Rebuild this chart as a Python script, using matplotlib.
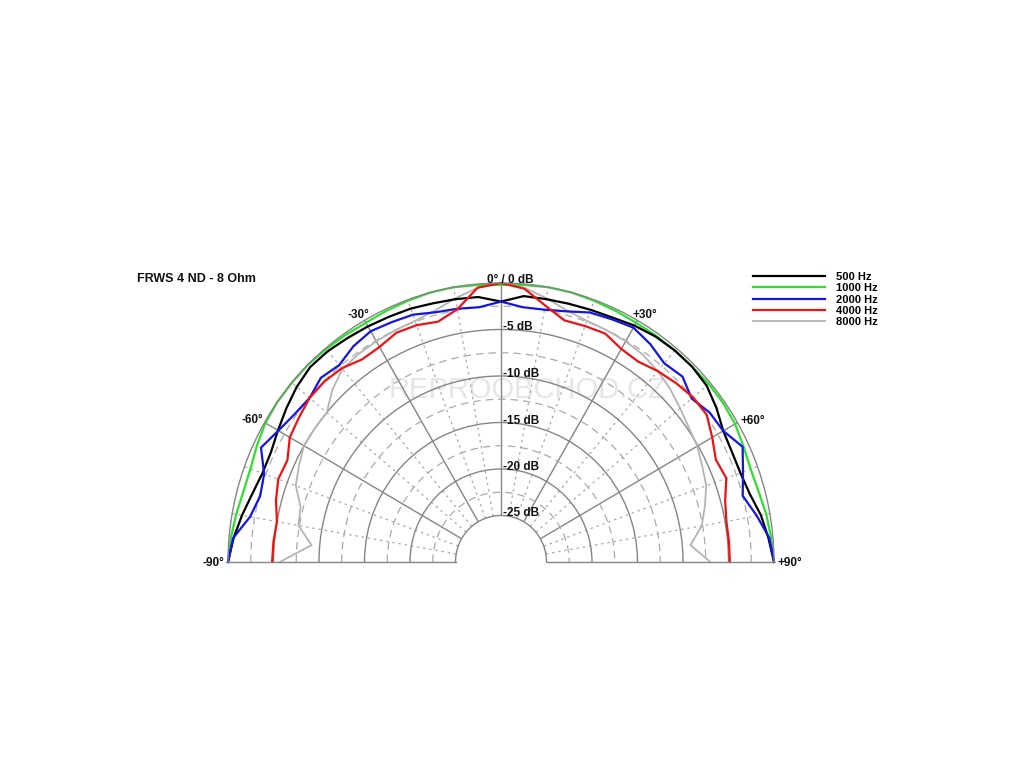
import numpy as np
import matplotlib
matplotlib.use("Agg")
import matplotlib.pyplot as plt
from matplotlib.transforms import offset_copy

plt.rcParams['font.family'] = ['Liberation Sans', 'DejaVu Sans']

# angles in degrees, levels in dB
angles = np.arange(-90, 91, 5)

db_500 = [0.0, -0.5, -1.1, -1.7, -2.1, -2.1, -1.7, -1.2, -0.7, -0.35, -0.4, -0.6, -0.75,
          -0.9, -1.0, -1.2, -1.3, -1.4, -2.0, -1.3, -1.3, -1.25, -1.15, -1.0, -0.65, -0.4,
          -0.3, -0.3, -0.5, -1.1, -1.8, -2.0, -2.0, -1.7, -1.0, -0.5, 0.0]
db_1000 = [0.0, -0.2, -0.45, -0.7, -0.7, -0.4, -0.1, 0.0, 0.0, 0.0, -0.1, -0.2, -0.3,
           -0.2, -0.1, 0.0, 0.0, -0.1, -0.2, -0.1, 0.0, 0.0, -0.1, -0.2, -0.3, -0.3,
           -0.3, -0.3, -0.2, -0.2, -0.3, -0.6, -0.8, -0.7, -0.4, -0.2, 0.0]
db_2000 = [0.0, -0.45, -2.0, -2.6, -2.3, -0.9, -1.75, -2.3, -2.55, -2.0, -2.35, -1.7, -1.35,
           -1.55, -1.7, -2.2, -2.35, -2.5, -2.0, -2.5, -2.45, -2.1, -1.45, -1.2, -0.9, -1.4,
           -2.1, -1.8, -2.65, -2.0, -1.8, -0.7, -1.7, -2.5, -1.45, -0.4, 0.0]
db_4000 = [-4.85, -4.9, -5.0, -4.4, -3.95, -4.1, -3.2, -2.9, -2.55, -2.55, -2.8, -3.4, -3.3,
           -2.8, -2.9, -3.25, -2.4, -0.4, 0.0, -0.5, -2.0, -3.1, -3.0, -2.9, -3.55, -3.7,
           -3.2, -2.8, -2.45, -2.4, -3.2, -3.95, -3.65, -4.5, -4.85, -4.85, -4.85]
db_8000 = [-5.7, -9.1, -7.4, -7.2, -6.0, -5.5, -5.0, -5.0, -5.0, -3.8, -2.9, -2.7, -2.6,
           -2.5, -2.4, -2.0, -1.2, -0.4, 0.0, -0.4, -1.2, -2.0, -2.4, -2.5, -2.6, -2.8,
           -3.2, -3.7, -4.3, -4.8, -5.1, -5.6, -6.0, -6.8, -7.6, -9.1, -7.0]

series = [
    ("500 Hz", db_500, "#000000"),
    ("1000 Hz", db_1000, "#2ee02e"),
    ("2000 Hz", db_2000, "#1414e6"),
    ("4000 Hz", db_4000, "#ee1212"),
    ("8000 Hz", db_8000, "#b4b4b4"),
]
draw_order = ["8000 Hz", "1000 Hz", "500 Hz", "2000 Hz", "4000 Hz"]

db_ticks = [-5, -10, -15, -20, -25]
angle_labels = {-90: "-90°", -60: "-60°", -30: "-30°", 30: "+30°", 60: "+60°", 90: "+90°"}
# pixel nudges of the angle labels from the outer ring
label_nudge = {-90: (-15, -1), -60: (-12, 2), -30: (-6, 5), 30: (7, 5), 60: (15, 2), 90: (16, -1)}

W, H = 1024, 768
cx, cy, Rx, Ry = 501, 562, 273, 279

fig = plt.figure(figsize=(W / 100, H / 100), dpi=100)
# half wedge sits in the middle half of the box height
box_bottom = cy + 0.5 * Ry
ax = fig.add_axes([(cx - Rx) / W, (H - box_bottom) / H, 2 * Rx / W, 2 * Ry / H],
                  projection='polar')
ax.set_theta_zero_location('N')
ax.set_theta_direction(-1)
ax.set_thetamin(-90)
ax.set_thetamax(90)
ax.set_rlim(-25, 0)
ax.set_rorigin(-30)
ax.set_aspect('auto')
ax.patch.set_alpha(0)

# grid
ax.set_xticks(np.deg2rad([-60, -30, 0, 30, 60]))
ax.set_xticks(np.deg2rad([a for a in range(-80, 81, 10) if a % 30 != 0]), minor=True)
ax.set_yticks([-20, -15, -10, -5])
ax.set_yticks([-22.5, -17.5, -12.5, -7.5, -2.5], minor=True)
ax.set_xticklabels([])
ax.set_yticklabels([])
ax.tick_params(which='both', length=0)
ax.xaxis.grid(True, which='major', color='#858585', lw=1.0, ls='-')
ax.yaxis.grid(True, which='major', color='#858585', lw=1.0, ls='-')
ax.xaxis.grid(True, which='minor', color='#aaaaaa', lw=0.9, ls=(0, (2, 3)))
ax.yaxis.grid(True, which='minor', color='#aaaaaa', lw=0.9, ls=(0, (6, 4)))
for s in ax.spines.values():
    s.set_color('#858585')
    s.set_linewidth(1.0)

# watermark
fig.text(0.515, 1 - 390 / H, "REPROOBCHOD.CZ", ha='center', va='center',
         fontsize=21, color='#e6e6e6', zorder=-1)

lines = {}
for name in draw_order:
    vals, col = [(v, c) for n, v, c in series if n == name][0]
    lw = 1.3 if name == "8000 Hz" else 1.6
    lines[name], = ax.plot(np.deg2rad(angles), vals, color=col, lw=lw, label=name,
                           clip_on=False)

# labels
bold = dict(fontweight='bold', fontsize=8.5, color='#111111')
tr0 = offset_copy(ax.transData, fig=fig, x=9, y=3, units='dots')
ax.text(0, 0, "0° / 0 dB", ha='center', va='center', transform=tr0, clip_on=False, **bold)
for a, t in angle_labels.items():
    dx, dy = label_nudge[a]
    tra = offset_copy(ax.transData, fig=fig, x=dx, y=dy, units='dots')
    ax.text(np.deg2rad(a), 0, t, ha='center', va='center', transform=tra,
            clip_on=False, **bold)
tr = offset_copy(ax.transData, fig=fig, x=2, y=2, units='dots')
for d in db_ticks:
    ax.text(0, d, f"{d} dB", ha='left', va='center', transform=tr, clip_on=False, **bold)

fig.text(137 / W, 1 - 279 / H, "FRWS 4 ND - 8 Ohm", ha='left', va='center',
         fontsize=9, fontweight='bold', color='#111111')

leg = fig.legend([lines[n] for n, _, _ in series], [n for n, _, _ in series],
                 loc='upper left', bbox_to_anchor=(753 / W, 1 - 272 / H),
                 frameon=False, fontsize=8, handlelength=6.5, handletextpad=1.0,
                 labelspacing=0.12, borderpad=0, borderaxespad=0)
for t in leg.get_texts():
    t.set_fontweight('bold')

fig.savefig("out.png", dpi=100)
